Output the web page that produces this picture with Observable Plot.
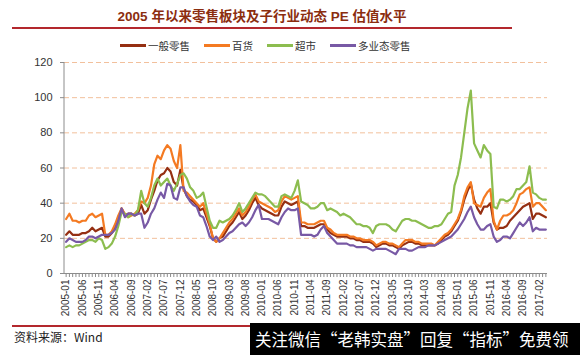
<!DOCTYPE html>
<html><head><meta charset="utf-8">
<script src="https://cdn.jsdelivr.net/npm/d3@7"></script>
<script src="https://cdn.jsdelivr.net/npm/@observablehq/plot@0.6"></script>
<style>
body{margin:0;width:580px;height:355px;position:relative;overflow:hidden;background:#fff;font-family:"Liberation Sans","Noto Sans CJK SC",sans-serif;}
#title{position:absolute;left:12px;top:8px;width:500px;text-align:center;font-size:13.5px;line-height:18px;font-weight:bold;color:#8b2d0f;font-family:"Liberation Sans","Noto Sans CJK SC",sans-serif;}
.rule{position:absolute;left:12px;width:500px;height:2px;background:#b3282d;}
#legend{position:absolute;left:120px;top:38px;display:flex;gap:14px;align-items:center;font-size:10.5px;color:#333;font-family:"Noto Sans CJK SC",sans-serif;}
#legend .item{display:flex;align-items:center;gap:2px;}
#legend .sw{width:26px;height:3px;}
#chart{position:absolute;left:0;top:55px;}
#source{position:absolute;left:14px;top:328px;font-size:12px;color:#222;font-family:"Noto Sans CJK SC",sans-serif;}
#wm{position:absolute;left:250px;top:323px;width:330px;height:32px;background:#000;color:#fff;font-size:16.5px;line-height:32px;white-space:nowrap;overflow:hidden;padding-left:5px;box-sizing:border-box;font-family:"Noto Sans CJK SC",sans-serif;}
</style></head><body>
<div id="title">2005 年以来零售板块及子行业动态 PE 估值水平</div>
<div class="rule" style="top:27px"></div>
<div id="legend"></div>
<div id="chart"></div>
<div class="rule" style="top:325px;width:240px"></div>
<div id="source">资料来源：Wind</div>
<div id="wm">关注微信“老韩实盘”回复“指标”免费领</div>
<script>
// ---- data (monthly, 2005-01 to 2017-04) ----
const startYear = 2005;
const seriesNames = ["一般零售", "百货", "超市", "多业态零售"];
const seriesColors = ["#952f12", "#f47a22", "#8cbd4f", "#7859a5"];

const general = [
  22,24,22,22,22,23,23,24,26,24,25,26,
  21,21,23,26,30,37,33,34,34,33,34,39,
  34,36,42,47,53,56,57,60,58,52,50,59,
  48,44,42,41,39,36,37,32,27,20,18,20,
  21,24,27,29,32,35,31,33,36,40,43,39,
  37,36,35,34,33,33,38,41,40,39,40,41,
  27,27,26,26,26,27,28,28,25,23,22,21,
  21,21,21,20,20,19,19,18,18,18,17,15,
  16,17,17,16,16,15,14,16,17,18,18,17,
  17,16,16,16,16,16,17,19,21,22,24,27,
  30,35,42,47,51,42,37,34,38,38,40,29,
  25,26,26,27,30,32,34,36,38,39,40,31,
  34,34,33,32
];
const department = [
  31,34,30,30,29,30,30,33,34,32,33,34,
  22,22,24,28,33,37,34,32,33,34,36,41,
  40,43,50,62,67,65,70,73,71,64,60,73,
  47,46,44,42,40,38,40,34,28,20,18,20,
  23,26,29,31,34,37,33,35,38,42,45,41,
  40,39,38,37,35,36,41,44,43,42,43,44,
  29,29,28,28,28,29,30,30,26,25,23,22,
  22,22,22,21,21,20,20,19,19,19,18,16,
  17,18,18,17,17,16,15,17,19,19,19,18,
  18,17,17,17,17,16,18,20,22,23,25,28,
  31,36,44,49,52,40,39,38,43,46,48,30,
  25,30,33,33,34,36,40,45,46,48,49,38,
  40,40,38,36
];
const supermarket = [
  15,16,15,16,16,17,18,19,19,18,20,19,
  14,15,17,21,27,35,34,32,34,33,36,47,
  40,38,43,50,54,50,52,54,50,47,51,56,
  57,54,49,47,43,44,46,38,30,26,26,30,
  29,30,31,33,36,40,35,37,40,43,46,45,
  45,44,42,40,38,38,44,45,44,43,47,53,
  41,40,39,37,37,38,40,40,36,37,36,35,
  33,34,33,32,30,28,28,27,27,26,23,27,
  28,28,28,27,25,24,27,30,31,31,30,30,
  29,28,27,26,26,27,27,28,31,34,35,50,
  56,66,80,94,104,74,70,66,73,70,68,38,
  37,42,42,41,42,44,48,48,50,52,61,46,
  45,43,42,42
];
const multiFormat = [
  18,20,19,18,18,18,19,21,21,20,21,22,
  22,22,23,25,30,37,32,34,34,33,34,34,
  26,29,34,37,42,46,43,51,50,43,42,49,
  49,44,41,39,38,33,32,27,21,19,21,18,
  19,21,23,24,26,28,29,27,29,32,36,39,
  31,31,31,30,29,28,32,35,37,36,36,37,
  22,22,22,22,21,22,25,27,23,21,19,17,
  17,17,17,16,16,15,15,15,15,14,13,14,
  14,14,14,13,12,11,14,14,14,13,13,14,
  15,15,15,16,16,16,17,18,19,20,21,23,
  25,28,31,35,38,32,28,25,25,27,28,21,
  18,19,21,21,20,23,26,29,27,29,32,24,
  26,25,25,25
];
const yTicks = [0,20,40,60,80,100,120];
const xTickLabels = ["2005-01","2005-06","2005-11","2006-04","2006-09","2007-02","2007-07","2007-12","2008-05","2008-10","2009-03","2009-08","2010-01","2010-06","2010-11","2011-04","2011-09","2012-02","2012-07","2012-12","2013-05","2013-10","2014-03","2014-08","2015-01","2015-06","2015-11","2016-04","2016-09","2017-02"];

// month categories
const months = general.map((_, i) => {
  const y = startYear + Math.floor(i / 12), m = (i % 12) + 1;
  return `${y}-${String(m).padStart(2, "0")}`;
});
const allSeries = [general, department, supermarket, multiFormat];
const rows = allSeries.flatMap((vals, s) => vals.map((v, i) => ({month: months[i], value: v, series: seriesNames[s]})));

// legend
const legend = document.getElementById("legend");
seriesNames.forEach((n, i) => {
  const it = document.createElement("div"); it.className = "item";
  it.innerHTML = `<span class="sw" style="background:${seriesColors[i]}"></span><span>${n}</span>`;
  legend.appendChild(it);
});

const leftLine = (index, scales, values, dims) =>
  d3.create("svg:line")
    .attr("x1", dims.marginLeft).attr("x2", dims.marginLeft)
    .attr("y1", dims.marginTop).attr("y2", dims.height - dims.marginBottom)
    .attr("stroke", "#8c8c8c").attr("stroke-width", 1).node();

const chart = Plot.plot({
  width: 580,
  height: 270,
  marginTop: 7,
  marginBottom: 52,
  marginLeft: 64,
  marginRight: 33,
  style: {fontFamily: "Liberation Sans, Noto Sans CJK SC, sans-serif", fontSize: "10px", color: "#333", background: "#fff"},
  x: {type: "point", domain: months, padding: 0.5},
  y: {domain: [0, 120]},
  color: {domain: seriesNames, range: seriesColors},
  marks: [
    Plot.gridY(yTicks.filter(d => d > 0), {stroke: "#f2c09c", strokeOpacity: 1, strokeDasharray: "5,3"}),
    Plot.axisY({ticks: yTicks, tickSize: 4, tickPadding: 8, fontSize: 11, stroke: "#8c8c8c", label: null}),
    Plot.axisX({ticks: months, tickSize: 4, tickFormat: () => "", stroke: "#8c8c8c", label: null}),
    Plot.axisX({ticks: xTickLabels, tickSize: 0, tickPadding: 6, tickRotate: -90, fontSize: 10, label: null}),
    Plot.ruleY([0], {stroke: "#8c8c8c"}),
    leftLine,
    Plot.lineY(rows, {x: "month", y: "value", z: "series", stroke: "series", strokeWidth: 2.2})
  ]
});
document.getElementById("chart").appendChild(chart);
</script>
</body></html>
